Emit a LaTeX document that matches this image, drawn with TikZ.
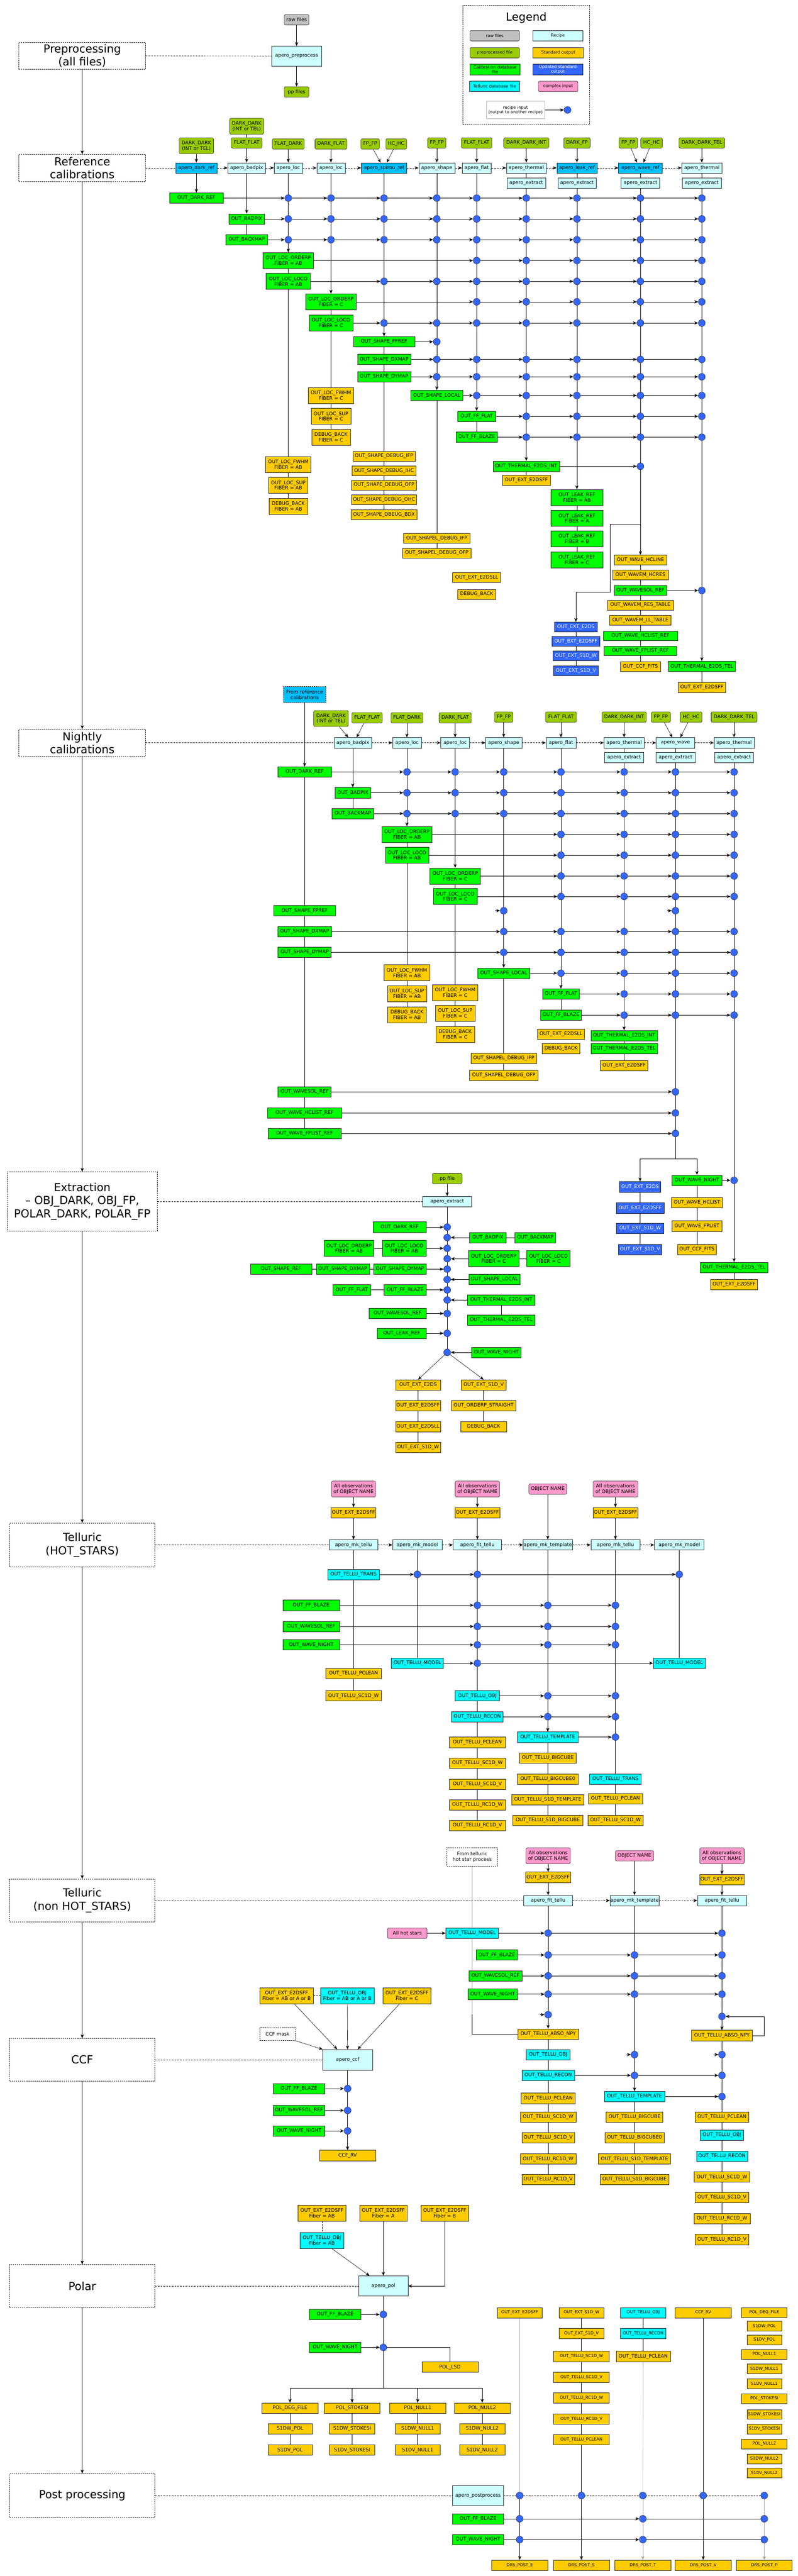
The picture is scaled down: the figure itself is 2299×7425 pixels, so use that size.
\documentclass[tikz,border=0pt]{standalone}
\usepackage{fontspec}
\setmainfont{DejaVu Sans}
\usetikzlibrary{arrows.meta}
\definecolor{recC}{HTML}{CCFFFF}
\definecolor{recB}{HTML}{00C0FF}
\definecolor{preC}{HTML}{99CC00}
\definecolor{calC}{HTML}{00FF00}
\definecolor{stdC}{HTML}{FFCC00}
\definecolor{updC}{HTML}{3366FF}
\definecolor{telC}{HTML}{00FFFF}
\definecolor{cpxC}{HTML}{FF99CC}
\definecolor{rawC}{HTML}{C0C0C0}
\definecolor{dotC}{HTML}{3366FF}
\pgfdeclarelayer{back}
\pgfdeclarelayer{bg}
\pgfsetlayers{back,bg,main}
\newcommand\fsA{\fontsize{14}{16}\selectfont}
\newcommand\fsB{\fontsize{12}{13.5}\selectfont}
\newcommand\fsC{\fontsize{32}{38}\selectfont}
\tikzset{
  basebox/.style={draw=black!85,line width=0.9pt,inner sep=1pt,align=center,font=\fsA,minimum height=30pt},
  rec/.style={basebox,fill=recC},
  recb/.style={basebox,fill=recB},
  pre/.style={basebox,fill=preC,rounded corners=4pt},
  cal/.style={basebox,fill=calC},
  std/.style={basebox,fill=stdC},
  upd/.style={basebox,fill=updC,text=white},
  tel/.style={basebox,fill=telC},
  cpx/.style={basebox,fill=cpxC,rounded corners=4pt},
  rawb/.style={basebox,fill=rawC,rounded corners=4pt},
  plainb/.style={basebox,draw=black!30,fill=white},
  dashb/.style={basebox,dash pattern=on 4pt off 2pt,fill=white},
  sec/.style={draw=black!85,line width=0.9pt,dash pattern=on 4pt off 2pt,align=center,font=\fsC,inner sep=2pt},
  h2/.style={minimum height=46pt},
  hs/.style={minimum height=28pt},
  dotn/.style={circle,draw=black!85,fill=dotC,minimum size=20pt,inner sep=0pt,line width=0.8pt},
  ln/.style={line width=0.9pt,draw=black},
  arr/.style={ln,-{Stealth[length=11pt,width=9pt,inset=3pt]}},
  dln/.style={ln,dash pattern=on 5pt off 3pt},
  darr/.style={arr,dash pattern=on 5pt off 3pt},
  faint/.style={ln,draw=black!35},
}
\newcommand\NB[6]{\node[#1,minimum width=#5pt] (#2) at (#3,#4) {#6};}
\newcommand\dotrow[3]{%
  \xdef\prevnode{#1}%
  \foreach \xx in {#3}{%
    \node[dotn] (D\xx-#2) at (\xx,#2) {};%
    \begin{pgfonlayer}{bg}\draw[arr] (\prevnode) -- (D\xx-#2);\end{pgfonlayer}%
    \xdef\prevnode{D\xx-#2}%
  }%
}
\newcommand\stubdot[2]{%
  \node[dotn] (D#1-#2) at (#1,#2) {};%
  \begin{pgfonlayer}{bg}\draw[arr] ([xshift=-14pt]D#1-#2.west) -- (D#1-#2.west);\end{pgfonlayer}%
}
\begin{document}
\begin{tikzpicture}[x=1pt,y=-1pt]
\begin{pgfonlayer}{back}\fill[white] (0,0) rectangle (2299,7425);\end{pgfonlayer}
\useasboundingbox (0,0) rectangle (2299,7425);

% ---------------- section boxes
\node[sec,minimum width=365pt,minimum height=78pt] (secPrep) at (237,161) {Preprocessing\\(all files)};
\node[sec,minimum width=365pt,minimum height=78pt] (secRef) at (237,484) {Reference\\calibrations};
\node[sec,minimum width=365pt,minimum height=78pt] (secNight) at (237,2141) {Nightly\\calibrations};
\node[sec,minimum width=433pt,minimum height=170pt] (secExt) at (237,3463) {Extraction\\– OBJ\_DARK, OBJ\_FP,\\POLAR\_DARK, POLAR\_FP};
\node[sec,minimum width=419pt,minimum height=126pt] (secTH) at (237,4453) {Telluric\\(HOT\_STARS)};
\node[sec,minimum width=419pt,minimum height=124pt] (secTN) at (237,5478) {Telluric\\(non HOT\_STARS)};
\node[sec,minimum width=419pt,minimum height=123pt] (secCCF) at (237,5937) {CCF};
\node[sec,minimum width=419pt,minimum height=123pt] (secPol) at (237,6589) {Polar};
\node[sec,minimum width=419pt,minimum height=126pt] (secPost) at (237,7193) {Post processing};

% ---------------- preprocessing
\NB{rawb}{rawf}{855}{57}{71}{raw files}
\NB{rec,minimum height=58pt}{prep}{855}{162}{143}{apero\_preprocess}
\NB{pre}{ppf}{855}{265}{71}{pp files}

% ---------------- legend
\node[draw=black!85,line width=0.9pt,dash pattern=on 4pt off 2pt,minimum width=366pt,minimum height=343pt,inner sep=0pt] (legbox) at (1517,187.5) {};
\node[font=\fsC] (legt) at (1517,51) {Legend};
\NB{rawb,font=\fsB}{lraw}{1426}{103}{143}{raw files}
\NB{rec,font=\fsB}{lrec}{1608}{103}{144}{Recipe}
\NB{pre,font=\fsB}{lpre}{1426}{152}{143}{preprocessed file}
\NB{std,font=\fsB}{lstd}{1609}{152}{146}{Standard output}
\NB{cal,font=\fsB,minimum height=31pt}{lcal}{1427}{200}{145}{Calibration database\\file}
\NB{upd,font=\fsB,minimum height=31pt}{lupd}{1608}{200}{144}{Updated standard\\output}
\NB{tel,font=\fsB}{ltel}{1426}{249}{144}{Telluric database file}
\NB{cpx,font=\fsB}{lcpx}{1609}{249}{114}{complex input}
\NB{plainb,font=\fsB,minimum height=50pt}{linp}{1486}{317}{168}{recipe input\\(output to another recipe)}
\node[dotn] (ldot) at (1636,317) {};

% ---------------- reference calibrations
\NB{recb}{rDark}{566}{484}{119}{apero\_dark\_ref}
\NB{rec}{rBad}{711}{484}{109}{apero\_badpix}
\NB{rec}{rLocA}{831}{484}{82}{apero\_loc}
\NB{rec}{rLocB}{954}{484}{82}{apero\_loc}
\NB{recb}{rShRef}{1107}{484}{131}{apero\_spirou\_ref}
\NB{rec}{rShape}{1259}{484}{104}{apero\_shape}
\NB{rec}{rFlat}{1374}{484}{84}{apero\_flat}
\NB{rec}{rThA}{1517}{484}{115}{apero\_thermal}
\NB{recb}{rLeak}{1663}{484}{116}{apero\_leak\_ref}
\NB{recb}{rWave}{1846}{484}{126}{apero\_wave\_ref}
\NB{rec}{rThB}{2023}{484}{116}{apero\_thermal}
\NB{rec}{reA}{1517}{528}{112}{apero\_extract}
\NB{rec}{reL}{1663}{528}{110}{apero\_extract}
\NB{rec}{reW}{1846}{528}{111}{apero\_extract}
\NB{rec}{reB}{2023}{528}{112}{apero\_extract}

\NB{pre,h2}{fDDa}{566}{420}{99}{DARK\_DARK\\(INT or TEL)}
\NB{pre,h2}{fDDb}{711}{364}{98}{DARK\_DARK\\(INT or TEL)}
\NB{pre}{fFFa}{711}{412}{89}{FLAT\_FLAT}
\NB{pre}{fFD}{831}{415}{92}{FLAT\_DARK}
\NB{pre}{fDF}{954}{415}{92}{DARK\_FLAT}
\NB{pre}{fFPa}{1067}{415}{53}{FP\_FP}
\NB{pre}{fHCa}{1142}{415}{60}{HC\_HC}
\NB{pre}{fFPb}{1259}{412}{53}{FP\_FP}
\NB{pre}{fFFb}{1374}{412}{88}{FLAT\_FLAT}
\NB{pre}{fDDI}{1517}{412}{130}{DARK\_DARK\_INT}
\NB{pre}{fDFP}{1663}{412}{76}{DARK\_FP}
\NB{pre}{fFPc}{1811}{412}{54}{FP\_FP}
\NB{pre}{fHCb}{1878}{412}{62}{HC\_HC}
\NB{pre}{fDDT}{2023}{412}{132}{DARK\_DARK\_TEL}

\NB{cal}{oDark}{566}{571}{155}{OUT\_DARK\_REF}
\NB{cal}{oBad}{711}{631}{103}{OUT\_BADPIX}
\NB{cal}{oBack}{711}{691}{120}{OUT\_BACKMAP}
\NB{cal,h2}{oOrdAB}{831}{751}{145}{OUT\_LOC\_ORDERP\\FIBER = AB}
\NB{cal,h2}{oLocoAB}{831}{811}{128}{OUT\_LOC\_LOCO\\FIBER = AB}
\NB{cal,h2}{oOrdC}{954}{870}{146}{OUT\_LOC\_ORDERP\\FIBER = C}
\NB{cal,h2}{oLocoC}{954}{931}{126}{OUT\_LOC\_LOCO\\FIBER = C}
\NB{cal}{oFPref}{1107}{985}{177}{OUT\_SHAPE\_FPREF}
\NB{cal}{oDX}{1107}{1036}{153}{OUT\_SHAPE\_DXMAP}
\NB{cal}{oDY}{1107}{1086}{153}{OUT\_SHAPE\_DYMAP}
\NB{cal}{oLocal}{1259}{1140}{151}{OUT\_SHAPE\_LOCAL}
\NB{cal}{oFFf}{1374}{1200}{109}{OUT\_FF\_FLAT}
\NB{cal}{oFFb}{1374}{1260}{119}{OUT\_FF\_BLAZE}
\NB{cal}{oThInt}{1517}{1344}{192}{OUT\_THERMAL\_E2DS\_INT}
\NB{std}{oExtFFa}{1517}{1384}{138}{OUT\_EXT\_E2DSFF}
\NB{cal,h2}{oLkAB}{1663}{1434}{150}{OUT\_LEAK\_REF\\FIBER = AB}
\NB{cal,h2}{oLkA}{1663}{1494}{150}{OUT\_LEAK\_REF\\FIBER = A}
\NB{cal,h2}{oLkB}{1663}{1553}{150}{OUT\_LEAK\_REF\\FIBER = B}
\NB{cal,h2}{oLkC}{1663}{1614}{150}{OUT\_LEAK\_REF\\FIBER = C}
\NB{std,hs}{oHcl}{1846}{1614}{151}{OUT\_WAVE\_HCLINE}
\NB{std,hs}{oHcres}{1846}{1657}{160}{OUT\_WAVEM\_HCRES}
\NB{cal,hs}{oWsol}{1846}{1702}{151}{OUT\_WAVESOL\_REF}
\NB{std,hs}{oResT}{1846}{1744}{191}{OUT\_WAVEM\_RES\_TABLE}
\NB{std,hs}{oLLT}{1846}{1788}{177}{OUT\_WAVEM\_LL\_TABLE}
\NB{cal,hs}{oHcRef}{1846}{1833}{213}{OUT\_WAVE\_HCLIST\_REF}
\NB{cal,hs}{oFpRef}{1846}{1876}{209}{OUT\_WAVE\_FPLIST\_REF}
\NB{std,hs}{oCCF}{1846}{1921}{115}{OUT\_CCF\_FITS}
\NB{upd,hs}{oE2}{1660}{1807}{122}{OUT\_EXT\_E2DS}
\NB{upd,hs}{oE2ff}{1660}{1849}{137}{OUT\_EXT\_E2DSFF}
\NB{upd,hs}{oS1w}{1660}{1890}{132}{OUT\_EXT\_S1D\_W}
\NB{upd,hs}{oS1v}{1660}{1933}{129}{OUT\_EXT\_S1D\_V}
\NB{cal}{oThTel}{2023}{1921}{194}{OUT\_THERMAL\_E2DS\_TEL}
\NB{std}{oExtFFb}{2023}{1981}{136}{OUT\_EXT\_E2DSFF}
\NB{std,h2}{oFwAB}{831}{1339}{131}{OUT\_LOC\_FWHM\\FIBER = AB}
\NB{std,h2}{oSuAB}{831}{1399}{113}{OUT\_LOC\_SUP\\FIBER = AB}
\NB{std,h2}{oDbAB}{831}{1459}{111}{DEBUG\_BACK\\FIBER = AB}
\NB{std,h2}{oFwC}{954}{1140}{130}{OUT\_LOC\_FWHM\\FIBER = C}
\NB{std,h2}{oSuC}{954}{1200}{114}{OUT\_LOC\_SUP\\FIBER = C}
\NB{std,h2}{oDbC}{954}{1260}{111}{DEBUG\_BACK\\FIBER = C}
\NB{std,hs}{oSd1}{1107}{1315}{180}{OUT\_SHAPE\_DEBUG\_IFP}
\NB{std,hs}{oSd2}{1107}{1357}{185}{OUT\_SHAPE\_DEBUG\_IHC}
\NB{std,hs}{oSd3}{1107}{1398}{187}{OUT\_SHAPE\_DEBUG\_OFP}
\NB{std,hs}{oSd4}{1107}{1440}{187}{OUT\_SHAPE\_DEBUG\_OHC}
\NB{std,hs}{oSd5}{1107}{1483}{190}{OUT\_SHAPE\_DBEUG\_BDX}
\NB{std,hs}{oSl1}{1259}{1552}{191}{OUT\_SHAPEL\_DEBUG\_IFP}
\NB{std,hs}{oSl2}{1259}{1594}{197}{OUT\_SHAPEL\_DEBUG\_OFP}
\NB{std,hs}{oLL}{1374}{1665}{138}{OUT\_EXT\_E2DSLL}
\NB{std,hs}{oDbF}{1374}{1713}{110}{DEBUG\_BACK}

\dotrow{oDark}{571}{831,954,1107,1259,1374,1517,1663,1846,2023}
\dotrow{oBad}{631}{831,954,1107,1259,1374,1517,1663,1846,2023}
\dotrow{oBack}{691}{831,954,1107,1259,1374,1517,1663,1846,2023}
\dotrow{oOrdAB}{751}{1374,1517,1663,1846,2023}
\dotrow{oLocoAB}{811}{1107,1259,1374,1517,1663,1846,2023}
\dotrow{oOrdC}{870}{1374,1517,1663,1846,2023}
\dotrow{oLocoC}{931}{1107,1259,1374,1517,1663,1846,2023}
\dotrow{oFPref}{985}{1259}
\dotrow{oDX}{1036}{1259,1374,1517,1663,1846,2023}
\dotrow{oDY}{1086}{1259,1374,1517,1663,1846,2023}
\dotrow{oLocal}{1140}{1374,1517,1663,1846,2023}
\dotrow{oFFf}{1200}{1517,1663,1846,2023}
\dotrow{oFFb}{1260}{1517,1663,1846,2023}
\dotrow{oThInt}{1344}{1846}
\dotrow{oWsol}{1702}{2023}
\coordinate (rwA) at (1846,1510);
\coordinate (rwB) at (1759,1706);

% ---------------- nightly calibrations
\NB{recb,dash pattern=on 4pt off 2pt,h2}{nFrom}{878}{2002}{122}{From reference\\calibrations}
\NB{rec}{nBad}{1017}{2141}{107}{apero\_badpix}
\NB{rec}{nLocA}{1173}{2141}{83}{apero\_loc}
\NB{rec}{nLocB}{1312}{2141}{83}{apero\_loc}
\NB{rec}{nShape}{1452}{2141}{104}{apero\_shape}
\NB{rec}{nFlat}{1617}{2141}{86}{apero\_flat}
\NB{rec}{nThA}{1799}{2141}{116}{apero\_thermal}
\NB{rec}{nWave}{1947}{2141}{111}{apero\_wave}
\NB{rec}{nThB}{2116}{2141}{116}{apero\_thermal}
\NB{rec}{neA}{1799}{2183}{112}{apero\_extract}
\NB{rec}{neW}{1947}{2183}{112}{apero\_extract}
\NB{rec}{neB}{2116}{2183}{112}{apero\_extract}
\NB{pre,h2}{nfDD}{954}{2071}{100}{DARK\_DARK\\(INT or TEL)}
\NB{pre}{nfFF}{1058}{2069}{88}{FLAT\_FLAT}
\NB{pre}{nfFD}{1173}{2069}{92}{FLAT\_DARK}
\NB{pre}{nfDF}{1312}{2069}{93}{DARK\_FLAT}
\NB{pre}{nfFP}{1452}{2067}{53}{FP\_FP}
\NB{pre}{nfFF2}{1617}{2067}{89}{FLAT\_FLAT}
\NB{pre}{nfDDI}{1799}{2067}{128}{DARK\_DARK\_INT}
\NB{pre}{nfFP2}{1905}{2067}{55}{FP\_FP}
\NB{pre}{nfHC}{1992}{2067}{63}{HC\_HC}
\NB{pre}{nfDDT}{2116}{2067}{132}{DARK\_DARK\_TEL}

\NB{cal}{nDark}{878}{2225}{155}{OUT\_DARK\_REF}
\NB{cal}{nBadpix}{1017}{2285}{103}{OUT\_BADPIX}
\NB{cal}{nBack}{1017}{2345}{120}{OUT\_BACKMAP}
\NB{cal,h2}{nOrdAB}{1173}{2405}{145}{OUT\_LOC\_ORDERP\\FIBER = AB}
\NB{cal,h2}{nLocoAB}{1173}{2465}{125}{OUT\_LOC\_LOCO\\FIBER = AB}
\NB{cal,h2}{nOrdC}{1312}{2525}{145}{OUT\_LOC\_ORDERP\\FIBER = C}
\NB{cal,h2}{nLocoC}{1312}{2584}{126}{OUT\_LOC\_LOCO\\FIBER = C}
\NB{cal}{nFPref}{878}{2625}{178}{OUT\_SHAPE\_FPREF}
\NB{cal}{nDX}{878}{2685}{155}{OUT\_SHAPE\_DXMAP}
\NB{cal}{nDY}{878}{2745}{153}{OUT\_SHAPE\_DYMAP}
\NB{std,h2}{nFwAB}{1173}{2804}{131}{OUT\_LOC\_FWHM\\FIBER = AB}
\NB{std,h2}{nSuAB}{1173}{2864}{113}{OUT\_LOC\_SUP\\FIBER = AB}
\NB{std,h2}{nDbAB}{1173}{2925}{111}{DEBUG\_BACK\\FIBER = AB}
\NB{std,h2}{nFwC}{1312}{2861}{131}{OUT\_LOC\_FWHM\\FIBER = C}
\NB{std,h2}{nSuC}{1312}{2920}{114}{OUT\_LOC\_SUP\\FIBER = C}
\NB{std,h2}{nDbC}{1312}{2981}{111}{DEBUG\_BACK\\FIBER = C}
\NB{cal}{nLocal}{1452}{2805}{150}{OUT\_SHAPE\_LOCAL}
\NB{std}{nSl1}{1452}{3051}{190}{OUT\_SHAPEL\_DEBUG\_IFP}
\NB{std}{nSl2}{1452}{3100}{197}{OUT\_SHAPEL\_DEBUG\_OFP}
\NB{cal}{nFFf}{1617}{2865}{106}{OUT\_FF\_FLAT}
\NB{cal}{nFFb}{1617}{2926}{118}{OUT\_FF\_BLAZE}
\NB{std}{nLL}{1617}{2981}{136}{OUT\_EXT\_E2DSLL}
\NB{std}{nDbF}{1617}{3022}{108}{DEBUG\_BACK}
\NB{cal}{nThInt}{1799}{2985}{192}{OUT\_THERMAL\_E2DS\_INT}
\NB{cal}{nThTel}{1799}{3022}{192}{OUT\_THERMAL\_E2DS\_TEL}
\NB{std}{nExtFF}{1799}{3071}{137}{OUT\_EXT\_E2DSFF}
\NB{cal}{nWsol}{878}{3147}{153}{OUT\_WAVESOL\_REF}
\NB{cal}{nHcl}{878}{3208}{214}{OUT\_WAVE\_HCLIST\_REF}
\NB{cal}{nFpl}{878}{3267}{210}{OUT\_WAVE\_FPLIST\_REF}
\NB{upd}{nE2}{1845}{3421}{118}{OUT\_EXT\_E2DS}
\NB{upd}{nE2ff}{1845}{3482}{138}{OUT\_EXT\_E2DSFF}
\NB{upd}{nS1w}{1845}{3541}{136}{OUT\_EXT\_S1D\_W}
\NB{upd}{nS1v}{1845}{3601}{124}{OUT\_EXT\_S1D\_V}
\NB{cal}{nWN}{2009}{3402}{144}{OUT\_WAVE\_NIGHT}
\NB{std}{nWHc}{2009}{3466}{148}{OUT\_WAVE\_HCLIST}
\NB{std}{nWFp}{2009}{3534}{144}{OUT\_WAVE\_FPLIST}
\NB{std}{nCCF}{2009}{3601}{112}{OUT\_CCF\_FITS}
\NB{cal}{nThTel2}{2116}{3653}{194}{OUT\_THERMAL\_E2DS\_TEL}
\NB{std}{nExtFF2}{2116}{3702}{136}{OUT\_EXT\_E2DSFF}
\coordinate (nwS) at (1947,3340);

\dotrow{nDark}{2225}{1173,1312,1452,1617,1799,1947,2116}
\dotrow{nBadpix}{2285}{1173,1312,1452,1617,1799,1947,2116}
\dotrow{nBack}{2345}{1173,1312,1452,1617,1799,1947,2116}
\dotrow{nOrdAB}{2405}{1617,1799,1947,2116}
\dotrow{nLocoAB}{2465}{1617,1799,1947,2116}
\dotrow{nOrdC}{2525}{1617,1799,1947,2116}
\dotrow{nLocoC}{2584}{1617,1799,1947,2116}
\stubdot{1452}{2625}
\stubdot{1947}{2625}
\dotrow{nDX}{2685}{1452,1617,1799,1947,2116}
\dotrow{nDY}{2745}{1452,1617,1799,1947,2116}
\dotrow{nLocal}{2805}{1617,1799,1947,2116}
\dotrow{nFFf}{2865}{1799,1947,2116}
\dotrow{nFFb}{2926}{1799,1947,2116}
\dotrow{nWsol}{3147}{1947}
\dotrow{nHcl}{3208}{1947}
\dotrow{nFpl}{3267}{1947}
\dotrow{nWN}{3402}{2116}

% ---------------- extraction
\NB{pre}{xPP}{1289}{3397}{86}{pp file}
\NB{rec}{xExt}{1289}{3463}{141}{apero\_extract}
\foreach \yy/\nn in {3537/1,3567/2,3598/3,3628/4,3658/5,3688/6,3718/7,3747/8,3786/9,3843/10,3898/11}{
  \node[dotn] (xd\nn) at (1289,\yy) {};
}
\NB{cal}{xDark}{1152}{3537}{154}{OUT\_DARK\_REF}
\NB{cal,h2}{xOrdAB}{1006}{3598}{142}{OUT\_LOC\_ORDERP\\FIBER = AB}
\NB{cal,h2}{xLocoAB}{1165}{3598}{126}{OUT\_LOC\_LOCO\\FIBER = AB}
\NB{cal}{xShRef}{810}{3658}{177}{OUT\_SHAPE\_REF}
\NB{cal}{xDX}{988}{3658}{153}{OUT\_SHAPE\_DXMAP}
\NB{cal}{xDY}{1153}{3658}{152}{OUT\_SHAPE\_DYMAP}
\NB{cal}{xFFf}{1014}{3718}{109}{OUT\_FF\_FLAT}
\NB{cal}{xFFb}{1168}{3718}{122}{OUT\_FF\_BLAZE}
\NB{cal}{xWsol}{1146}{3786}{165}{OUT\_WAVESOL\_REF}
\NB{cal}{xLeak}{1158}{3843}{142}{OUT\_LEAK\_REF}
\NB{cal}{xBad}{1406}{3567}{105}{OUT\_BADPIX}
\NB{cal}{xBack}{1543}{3567}{118}{OUT\_BACKMAP}
\NB{cal,h2}{xOrdC}{1423}{3628}{145}{OUT\_LOC\_ORDERP\\FIBER = C}
\NB{cal,h2}{xLocoC}{1581}{3628}{125}{OUT\_LOC\_LOCO\\FIBER = C}
\NB{cal}{xLocal}{1425}{3688}{147}{OUT\_SHAPE\_LOCAL}
\NB{cal}{xThInt}{1445}{3747}{194}{OUT\_THERMAL\_E2DS\_INT}
\NB{cal}{xThTel}{1445}{3805}{194}{OUT\_THERMAL\_E2DS\_TEL}
\NB{cal}{xWN}{1431}{3898}{143}{OUT\_WAVE\_NIGHT}
\NB{std}{xE2}{1205}{3992}{129}{OUT\_EXT\_E2DS}
\NB{std}{xE2ff}{1205}{4051}{129}{OUT\_EXT\_E2DSFF}
\NB{std}{xE2ll}{1205}{4112}{129}{OUT\_EXT\_E2DSLL}
\NB{std}{xS1w}{1205}{4172}{129}{OUT\_EXT\_S1D\_W}
\NB{std}{xS1v}{1394}{3992}{129}{OUT\_EXT\_S1D\_V}
\NB{std}{xOrdS}{1394}{4051}{185}{OUT\_ORDERP\_STRAIGHT}
\NB{std}{xDbg}{1394}{4112}{131}{DEBUG\_BACK}

% ---------------- telluric hot stars
\NB{cpx,h2}{tP1}{1019}{4292}{127}{All observations\\of OBJECT NAME}
\NB{cpx,h2}{tP2}{1376}{4292}{128}{All observations\\of OBJECT NAME}
\NB{cpx}{tP3}{1579}{4292}{109}{OBJECT NAME}
\NB{cpx,h2}{tP4}{1774}{4292}{129}{All observations\\of OBJECT NAME}
\NB{std}{tE1}{1019}{4360}{129}{OUT\_EXT\_E2DSFF}
\NB{std}{tE2}{1376}{4360}{129}{OUT\_EXT\_E2DSFF}
\NB{std}{tE4}{1774}{4360}{129}{OUT\_EXT\_E2DSFF}
\NB{rec}{tMk1}{1019}{4453}{140}{apero\_mk\_tellu}
\NB{rec}{tMm1}{1203}{4453}{143}{apero\_mk\_model}
\NB{rec}{tFit}{1376}{4453}{140}{apero\_fit\_tellu}
\NB{rec}{tTpl}{1579}{4453}{142}{apero\_mk\_template}
\NB{rec}{tMk2}{1774}{4453}{142}{apero\_mk\_tellu}
\NB{rec}{tMm2}{1958}{4453}{143}{apero\_mk\_model}
\NB{tel}{tTrans}{1019}{4538}{148}{OUT\_TELLU\_TRANS}
\NB{cal}{tBlaze}{897}{4627}{163}{OUT\_FF\_BLAZE}
\NB{cal}{tWsol}{897}{4688}{163}{OUT\_WAVESOL\_REF}
\NB{cal}{tWN}{897}{4741}{163}{OUT\_WAVE\_NIGHT}
\NB{tel}{tModel1}{1203}{4794}{150}{OUT\_TELLU\_MODEL}
\NB{tel}{tModel2}{1958}{4794}{150}{OUT\_TELLU\_MODEL}
\NB{std}{tPcl1}{1019}{4824}{161}{OUT\_TELLU\_PCLEAN}
\NB{std}{tSc1}{1019}{4888}{161}{OUT\_TELLU\_SC1D\_W}
\NB{tel}{tObj}{1376}{4888}{128}{OUT\_TELLU\_OBJ}
\NB{tel}{tRec}{1376}{4948}{148}{OUT\_TELLU\_RECON}
\NB{std}{tPcl2}{1376}{5022}{162}{OUT\_TELLU\_PCLEAN}
\NB{std}{tSc1w}{1376}{5082}{162}{OUT\_TELLU\_SC1D\_W}
\NB{std}{tSc1v}{1376}{5143}{162}{OUT\_TELLU\_SC1D\_V}
\NB{std}{tRc1w}{1376}{5202}{162}{OUT\_TELLU\_RC1D\_W}
\NB{std}{tRc1v}{1376}{5262}{162}{OUT\_TELLU\_RC1D\_V}
\NB{tel}{tTemp}{1579}{5007}{174}{OUT\_TELLU\_TEMPLATE}
\NB{std}{tBig}{1579}{5067}{164}{OUT\_TELLU\_BIGCUBE}
\NB{std}{tBig0}{1579}{5128}{174}{OUT\_TELLU\_BIGCUBE0}
\NB{std}{tS1T}{1579}{5187}{207}{OUT\_TELLU\_S1D\_TEMPLATE}
\NB{std}{tS1B}{1579}{5247}{201}{OUT\_TELLU\_S1D\_BIGCUBE}
\NB{tel}{tTr2}{1774}{5128}{148}{OUT\_TELLU\_TRANS}
\NB{std}{tPcl3}{1774}{5184}{156}{OUT\_TELLU\_PCLEAN}
\NB{std}{tSc3}{1774}{5247}{158}{OUT\_TELLU\_SC1D\_W}
\dotrow{tTrans}{4538}{1203,1376,1958}
\dotrow{tBlaze}{4627}{1376,1579,1774}
\dotrow{tWsol}{4688}{1376,1579,1774}
\dotrow{tWN}{4741}{1376,1579,1774}
\dotrow{tModel1}{4794}{1376}
\dotrow{tObj}{4888}{1579,1774}
\dotrow{tRec}{4948}{1579,1774}
\dotrow{tTemp}{5007}{1774}

% ---------------- telluric non hot stars
\NB{dashb,minimum height=54pt}{uFrom}{1361}{5352}{145}{From telluric\\hot star process}
\NB{cpx,h2}{uP1}{1580}{5349}{128}{All observations\\of OBJECT NAME}
\NB{cpx}{uP2}{1829}{5349}{110}{OBJECT NAME}
\NB{cpx,h2}{uP3}{2081}{5349}{128}{All observations\\of OBJECT NAME}
\NB{std}{uE1}{1580}{5411}{129}{OUT\_EXT\_E2DSFF}
\NB{std}{uE3}{2081}{5418}{129}{OUT\_EXT\_E2DSFF}
\NB{rec}{uFit1}{1580}{5478}{142}{apero\_fit\_tellu}
\NB{rec}{uTpl}{1829}{5478}{140}{apero\_mk\_template}
\NB{rec}{uFit2}{2081}{5478}{141}{apero\_fit\_tellu}
\NB{cpx}{uHot}{1174}{5572}{114}{All hot stars}
\NB{tel}{uModel}{1361}{5572}{152}{OUT\_TELLU\_MODEL}
\NB{cal}{uBlaze}{1432}{5635}{119}{OUT\_FF\_BLAZE}
\NB{cal}{uWsol}{1428}{5695}{153}{OUT\_WAVESOL\_REF}
\NB{cal}{uWN}{1420}{5748}{143}{OUT\_WAVE\_NIGHT}
\NB{std}{uAbso1}{1580}{5863}{175}{OUT\_TELLU\_ABSO\_NPY}
\NB{std}{uAbso2}{2081}{5867}{174}{OUT\_TELLU\_ABSO\_NPY}
\NB{tel}{uObj}{1580}{5922}{126}{OUT\_TELLU\_OBJ}
\NB{tel}{uRec}{1580}{5982}{151}{OUT\_TELLU\_RECON}
\NB{std}{uPcl}{1580}{6048}{156}{OUT\_TELLU\_PCLEAN}
\NB{std}{uSc1w}{1580}{6102}{160}{OUT\_TELLU\_SC1D\_W}
\NB{std}{uSc1v}{1580}{6162}{152}{OUT\_TELLU\_SC1D\_V}
\NB{std}{uRc1w}{1580}{6223}{160}{OUT\_TELLU\_RC1D\_W}
\NB{std}{uRc1v}{1580}{6282}{152}{OUT\_TELLU\_RC1D\_V}
\NB{tel}{uTemp}{1829}{6043}{173}{OUT\_TELLU\_TEMPLATE}
\NB{std}{uBig}{1829}{6102}{163}{OUT\_TELLU\_BIGCUBE}
\NB{std}{uBig0}{1829}{6162}{171}{OUT\_TELLU\_BIGCUBE0}
\NB{std}{uS1T}{1829}{6223}{208}{OUT\_TELLU\_S1D\_TEMPLATE}
\NB{std}{uS1B}{1829}{6282}{198}{OUT\_TELLU\_S1D\_BIGCUBE}
\NB{std}{uPcl3}{2081}{6102}{154}{OUT\_TELLU\_PCLEAN}
\NB{tel}{uObj3}{2081}{6154}{124}{OUT\_TELLU\_OBJ}
\NB{tel}{uRec3}{2081}{6215}{147}{OUT\_TELLU\_RECON}
\NB{std}{uSc3w}{2081}{6275}{160}{OUT\_TELLU\_SC1D\_W}
\NB{std}{uSc3v}{2081}{6334}{155}{OUT\_TELLU\_SC1D\_V}
\NB{std}{uRc3w}{2081}{6395}{162}{OUT\_TELLU\_RC1D\_W}
\NB{std}{uRc3v}{2081}{6455}{155}{OUT\_TELLU\_RC1D\_V}
\dotrow{uModel}{5572}{1580,2081}
\dotrow{uBlaze}{5635}{1580,1829,2081}
\dotrow{uWsol}{5695}{1580,1829,2081}
\dotrow{uWN}{5748}{1580,1829,2081}
\stubdot{1580}{5807}
\node[dotn] (D2081-5812) at (2081,5812) {};
\stubdot{1829}{5922}
\stubdot{2081}{5922}
\dotrow{uRec}{5982}{1829,2081}
\dotrow{uTemp}{6043}{2081}
\coordinate (uBend) at (1361,5807);
\coordinate (uBr) at (2203,5867);

% ---------------- CCF
\NB{std,h2}{cE1}{826}{5752}{154}{OUT\_EXT\_E2DSFF\\Fiber = AB or A or B}
\NB{tel,h2}{cT}{1001}{5752}{154}{OUT\_TELLU\_OBJ\\Fiber = AB or A or B}
\NB{std,h2}{cE2}{1173}{5752}{138}{OUT\_EXT\_E2DSFF\\Fiber = C}
\NB{dashb,minimum height=37pt}{cMask}{800}{5863}{102}{CCF mask}
\NB{rec,minimum height=59pt}{cCCF}{1002}{5937}{143}{apero\_ccf}
\NB{cal}{cBlaze}{862}{6020}{148}{OUT\_FF\_BLAZE}
\NB{cal}{cWsol}{862}{6083}{148}{OUT\_WAVESOL\_REF}
\NB{cal}{cWN}{862}{6142}{148}{OUT\_WAVE\_NIGHT}
\NB{std}{cRV}{1002}{6213}{162}{CCF\_RV}
\dotrow{cBlaze}{6020}{1002}
\dotrow{cWsol}{6083}{1002}
\dotrow{cWN}{6142}{1002}

% ---------------- polar
\NB{std,h2}{pE1}{928}{6379}{138}{OUT\_EXT\_E2DSFF\\Fiber = AB}
\NB{std,h2}{pE2}{1105}{6379}{137}{OUT\_EXT\_E2DSFF\\Fiber = A}
\NB{std,h2}{pE3}{1282}{6379}{137}{OUT\_EXT\_E2DSFF\\Fiber = B}
\NB{tel,h2}{pT}{928}{6458}{126}{OUT\_TELLU\_OBJ\\Fiber = AB}
\NB{rec,minimum height=58pt}{pPol}{1105}{6589}{142}{apero\_pol}
\NB{cal}{pBlaze}{966}{6671}{148}{OUT\_FF\_BLAZE}
\NB{cal}{pWN}{966}{6766}{148}{OUT\_WAVE\_NIGHT}
\NB{std}{pLSD}{1297}{6823}{162}{POL\_LSD}
\NB{std}{pDeg}{836}{6941}{162}{POL\_DEG\_FILE}
\NB{std}{pStk}{1015}{6941}{161}{POL\_STOKESI}
\NB{std}{pN1}{1204}{6941}{162}{POL\_NULL1}
\NB{std}{pN2}{1390}{6941}{161}{POL\_NULL2}
\NB{std}{pDegW}{836}{7001}{128}{S1DW\_POL}
\NB{std}{pDegV}{836}{7062}{128}{S1DV\_POL}
\NB{std}{pStkW}{1015}{7001}{130}{S1DW\_STOKESI}
\NB{std}{pStkV}{1015}{7062}{130}{S1DV\_STOKESI}
\NB{std}{pN1W}{1204}{7001}{129}{S1DW\_NULL1}
\NB{std}{pN1V}{1204}{7062}{129}{S1DV\_NULL1}
\NB{std}{pN2W}{1390}{7001}{130}{S1DW\_NULL2}
\NB{std}{pN2V}{1390}{7062}{130}{S1DV\_NULL2}
\dotrow{pBlaze}{6671}{1105}
\dotrow{pWN}{6766}{1105}
\coordinate (pBar) at (1105,6883);

% ---------------- post processing
\NB{rec,minimum height=58pt}{qPost}{1378}{7193}{147}{apero\_postprocess}
\NB{cal}{qBlaze}{1378}{7260}{147}{OUT\_FF\_BLAZE}
\NB{cal}{qWN}{1378}{7320}{147}{OUT\_WAVE\_NIGHT}
\foreach \xx/\nn in {1498/1,1676/2,1853/3,2027/4,2203/5}{\node[dotn] (qd\nn) at (\xx,7193) {};}
\foreach \xx/\nn in {1498/1,1853/3,2203/5}{\node[dotn] (qb\nn) at (\xx,7260) {}; \node[dotn] (qw\nn) at (\xx,7320) {};}
\NB{std,font=\fsB}{qE}{1498}{7394}{161}{DRS\_POST\_E}
\NB{std,font=\fsB}{qS}{1676}{7394}{161}{DRS\_POST\_S}
\NB{std,font=\fsB}{qT}{1853}{7394}{161}{DRS\_POST\_T}
\NB{std,font=\fsB}{qV}{2027}{7394}{162}{DRS\_POST\_V}
\NB{std,font=\fsB}{qP}{2203}{7394}{161}{DRS\_POST\_P}
\NB{std,font=\fsB}{kE2ff}{1498}{6666}{130}{OUT\_EXT\_E2DSFF}
\NB{std,font=\fsB}{kS1w}{1676}{6666}{129}{OUT\_EXT\_S1D\_W}
\NB{std,font=\fsB}{kS1v}{1676}{6726}{129}{OUT\_EXT\_S1D\_V}
\NB{std,font=\fsB}{kTSw}{1676}{6792}{160}{OUT\_TELLU\_SC1D\_W}
\NB{std,font=\fsB}{kTSv}{1676}{6852}{160}{OUT\_TELLU\_SC1D\_V}
\NB{std,font=\fsB}{kTRw}{1676}{6912}{160}{OUT\_TELLU\_RC1D\_W}
\NB{std,font=\fsB}{kTRv}{1676}{6972}{160}{OUT\_TELLU\_RC1D\_V}
\NB{std,font=\fsB}{kTPc}{1676}{7032}{160}{OUT\_TELLU\_PCLEAN}
\NB{tel,font=\fsB}{kObj}{1854}{6666}{130}{OUT\_TELLU\_OBJ}
\NB{tel,font=\fsB}{kRec}{1854}{6726}{130}{OUT\_TELLU\_RECON}
\NB{std}{kPcl}{1854}{6792}{156}{OUT\_TELLU\_PCLEAN}
\NB{std,font=\fsB}{kRV}{2027}{6666}{162}{CCF\_RV}
\NB{std,font=\fsB,hs}{kDeg}{2203}{6666}{131}{POL\_DEG\_FILE}
\NB{std,font=\fsB,hs}{kPw}{2203}{6705}{100}{S1DW\_POL}
\NB{std,font=\fsB,hs}{kPv}{2203}{6744}{100}{S1DV\_POL}
\NB{std,font=\fsB,hs}{kN1}{2203}{6786}{131}{POL\_NULL1}
\NB{std,font=\fsB,hs}{kN1w}{2203}{6828}{100}{S1DW\_NULL1}
\NB{std,font=\fsB,hs}{kN1v}{2203}{6871}{100}{S1DV\_NULL1}
\NB{std,font=\fsB,hs}{kSt}{2203}{6914}{131}{POL\_STOKESI}
\NB{std,font=\fsB,hs}{kStw}{2203}{6959}{100}{S1DW\_STOKESI}
\NB{std,font=\fsB,hs}{kStv}{2203}{7001}{100}{S1DV\_STOKESI}
\NB{std,font=\fsB,hs}{kN2}{2203}{7044}{131}{POL\_NULL2}
\NB{std,font=\fsB,hs}{kN2w}{2203}{7087}{100}{S1DW\_NULL2}
\NB{std,font=\fsB,hs}{kN2v}{2203}{7128}{100}{S1DV\_NULL2}

% ================= connectors
\begin{pgfonlayer}{bg}
% section chain
\draw[arr] (secPrep) -- (secRef);
\draw[arr] (secRef) -- (secNight);
\draw[arr] (secNight) -- (secExt);
\draw[arr] (secExt) -- (secTH);
\draw[arr] (secTH) -- (secTN);
\draw[arr] (secTN) -- (secCCF);
\draw[arr] (secCCF) -- (secPol);
\draw[arr] (secPol) -- (secPost);
\draw[dln] (secPrep) -- (prep);
\draw[dln] (secRef) -- (rDark);
\draw[dln] (secNight) -- (nBad);
\draw[dln] (secExt) -- (xExt);
\draw[dln] (secTH) -- (tMk1);
\draw[dln] (secTN) -- (uFit1);
\draw[dln] (secCCF) -- (cCCF);
\draw[dln] (secPol) -- (pPol);
\draw[dln] (secPost) -- (qPost);
% preprocessing + legend
\draw[arr] (rawf) -- (prep);
\draw[arr] (prep) -- (ppf);
\draw[arr] (linp) -- (ldot);
% reference
\foreach \a/\b in {rDark/rBad,rBad/rLocA,rLocA/rLocB,rLocB/rShRef,rShRef/rShape,rShape/rFlat,rFlat/rThA,rThA/rLeak,rLeak/rWave,rWave/rThB}{\draw[darr] (\a) -- (\b);}
\draw[arr] (fDDa) -- (rDark);
\draw[ln] (fDDb) -- (fFFa);
\draw[arr] (fFFa) -- (rBad);
\draw[arr] (fFD) -- (rLocA);
\draw[arr] (fDF) -- (rLocB);
\draw[arr] ([xshift=9pt]fFPa.south) -- ([xshift=-10pt]rShRef.north);
\draw[arr] ([xshift=-8pt]fHCa.south) -- ([xshift=8pt]rShRef.north);
\draw[arr] (fFPb) -- (rShape);
\draw[arr] (fFFb) -- (rFlat);
\draw[arr] (fDDI) -- (rThA);
\draw[arr] (fDFP) -- (rLeak);
\draw[arr] ([xshift=8pt]fFPc.south) -- ([xshift=-10pt]rWave.north);
\draw[arr] ([xshift=-6pt]fHCb.south) -- ([xshift=9pt]rWave.north);
\draw[arr] (fDDT) -- (rThB);
\draw[ln] (rThA) -- (reA);
\draw[ln] (rLeak) -- (reL);
\draw[ln] (rWave) -- (reW);
\draw[ln] (rThB) -- (reB);
\draw[arr] (rDark) -- (oDark);
\draw[arr] (rBad) -- (oBad);
\draw[ln] (oBad) -- (oBack);
\draw[arr] (rLocA) -- (oOrdAB);
\draw[ln] (oOrdAB) -- (oLocoAB) -- (oFwAB) -- (oSuAB) -- (oDbAB);
\draw[arr] (rLocB) -- (oOrdC);
\draw[ln] (oOrdC) -- (oLocoC) -- (oFwC) -- (oSuC) -- (oDbC);
\draw[arr] (rShRef) -- (oFPref);
\draw[ln] (oFPref) -- (oDX) -- (oDY) -- (oSd1) -- (oSd2) -- (oSd3) -- (oSd4) -- (oSd5);
\draw[arr] (rShape) -- (oLocal);
\draw[ln] (oLocal) -- (oSl1) -- (oSl2);
\draw[arr] (rFlat) -- (oFFf);
\draw[ln] (oFFf) -- (oFFb);
\draw[arr] (reA) -- (oThInt);
\draw[ln] (oThInt) -- (oExtFFa);
\draw[arr] (reL) -- (oLkAB);
\draw[ln] (oLkAB) -- (oLkA) -- (oLkB) -- (oLkC);
\draw[arr] (reW) -- (oHcl);
\draw[ln] (oHcl) -- (oHcres) -- (oWsol) -- (oResT) -- (oLLT) -- (oHcRef) -- (oFpRef) -- (oCCF);
\draw[arr] (rwA) -| (rwB) -| (oE2);
\draw[ln] (oE2) -- (oE2ff) -- (oS1w) -- (oS1v);
\draw[arr] (reB) -- (oThTel);
\draw[ln] (oThTel) -- (oExtFFb);
% nightly
\foreach \a/\b in {nBad/nLocA,nLocA/nLocB,nLocB/nShape,nShape/nFlat,nFlat/nThA,nThA/nWave,nWave/nThB}{\draw[darr] (\a) -- (\b);}
\draw[arr] ([xshift=24pt]nfDD.south) -- ([xshift=-13pt]nBad.north);
\draw[arr] ([xshift=-9pt]nfFF.south) -- ([xshift=11pt]nBad.north);
\draw[arr] (nfFD) -- (nLocA);
\draw[arr] (nfDF) -- (nLocB);
\draw[arr] (nfFP) -- (nShape);
\draw[arr] (nfFF2) -- (nFlat);
\draw[arr] (nfDDI) -- (nThA);
\draw[arr] ([xshift=10pt]nfFP2.south) -- ([xshift=-9pt]nWave.north);
\draw[arr] ([xshift=-9pt]nfHC.south) -- ([xshift=14pt]nWave.north);
\draw[arr] (nfDDT) -- (nThB);
\draw[ln] (nThA) -- (neA);
\draw[ln] (nWave) -- (neW);
\draw[ln] (nThB) -- (neB);
\draw[arr] (nFrom) -- (nDark);
\draw[ln] (nDark) -- (nFPref) -- (nDX) -- (nDY) -- (nWsol) -- (nHcl) -- (nFpl);
\draw[arr] (nBad) -- (nBadpix);
\draw[ln] (nBadpix) -- (nBack);
\draw[arr] (nLocA) -- (nOrdAB);
\draw[ln] (nOrdAB) -- (nLocoAB) -- (nFwAB) -- (nSuAB) -- (nDbAB);
\draw[arr] (nLocB) -- (nOrdC);
\draw[ln] (nOrdC) -- (nLocoC) -- (nFwC) -- (nSuC) -- (nDbC);
\draw[arr] (nShape) -- (nLocal);
\draw[ln] (nLocal) -- (nSl1) -- (nSl2);
\draw[arr] (nFlat) -- (nFFf);
\draw[ln] (nFFf) -- (nFFb);
\draw[arr] (neA) -- (nThInt);
\draw[ln] (nThInt) -- (nThTel) -- (nExtFF);
\draw[ln] (neW) -- (nwS);
\draw[arr] (nwS) -| (nE2);
\draw[arr] (nwS) -| (nWN);
\draw[ln] (nE2) -- (nE2ff) -- (nS1w) -- (nS1v);
\draw[ln] (nWN) -- (nWHc) -- (nWFp) -- (nCCF);
\draw[arr] (neB) -- (nThTel2);
\draw[ln] (nThTel2) -- (nExtFF2);
% extraction
\draw[arr] (xPP) -- (xExt);
\draw[ln] (xExt) -- (xd11);
\draw[arr] (xDark) -- (xd1);
\draw[ln] (xOrdAB) -- (xLocoAB);
\draw[arr] (xLocoAB) -- (xd3);
\draw[ln] (xShRef) -- (xDX) -- (xDY);
\draw[arr] (xDY) -- (xd5);
\draw[ln] (xFFf) -- (xFFb);
\draw[arr] (xFFb) -- (xd7);
\draw[arr] (xWsol) -- (xd9);
\draw[arr] (xLeak) -- (xd10);
\draw[ln] (xBack) -- (xBad);
\draw[arr] (xBad) -- (xd2);
\draw[ln] (xLocoC) -- (xOrdC);
\draw[arr] (xOrdC) -- (xd4);
\draw[arr] (xLocal) -- (xd6);
\draw[ln] (xThInt) -- (xThTel);
\draw[arr] (xThInt) -- (xd8);
\draw[arr] (xWN) -- (xd11);
\draw[arr] (xd11) -- (xE2.north);
\draw[arr] (xd11) -- (xS1v.north);
\draw[ln] (xE2) -- (xE2ff) -- (xE2ll) -- (xS1w);
\draw[ln] (xS1v) -- (xOrdS) -- (xDbg);
% telluric hot
\foreach \a/\b in {tMk1/tMm1,tMm1/tFit,tFit/tTpl,tTpl/tMk2,tMk2/tMm2}{\draw[darr] (\a) -- (\b);}
\draw[arr] (tP1) -- (tE1);
\draw[arr] (tE1) -- (tMk1);
\draw[arr] (tP2) -- (tE2);
\draw[arr] (tE2) -- (tFit);
\draw[arr] (tP3) -- (tTpl);
\draw[arr] (tP4) -- (tE4);
\draw[arr] (tE4) -- (tMk2);
\draw[ln] (tMk1) -- (tTrans);
\draw[ln] (tTrans) -- (tPcl1) -- (tSc1);
\draw[ln] (tMm1) -- (tModel1);
\draw[ln] (tFit) -- (tObj);
\draw[ln] (tObj) -- (tRec) -- (tPcl2) -- (tSc1w) -- (tSc1v) -- (tRc1w) -- (tRc1v);
\draw[arr] (tTpl) -- (tTemp);
\draw[ln] (tTemp) -- (tBig) -- (tBig0) -- (tS1T) -- (tS1B);
\draw[ln] (tMk2) -- (tTr2);
\draw[ln] (tTr2) -- (tPcl3) -- (tSc3);
\draw[ln] (tMm2) -- (tModel2);
\draw[arr] (D1376-4794) -- (tModel2);
% telluric non hot
\foreach \a/\b in {uFit1/uTpl,uTpl/uFit2}{\draw[darr] (\a) -- (\b);}
\draw[arr] (uP1) -- (uE1);
\draw[arr] (uE1) -- (uFit1);
\draw[arr] (uP2) -- (uTpl);
\draw[arr] (uP3) -- (uE3);
\draw[arr] (uE3) -- (uFit2);
\draw[arr] (uHot) -- (uModel);
\draw[arr] (uFit1) -- (uAbso1);
\draw[ln] (uAbso1) -- (uObj) -- (uRec) -- (uPcl) -- (uSc1w) -- (uSc1v) -- (uRc1w) -- (uRc1v);
\draw[arr] (uTpl) -- (uTemp);
\draw[ln] (uTemp) -- (uBig) -- (uBig0) -- (uS1T) -- (uS1B);
\draw[arr] (uFit2) -- (uAbso2);
\draw[ln] (uAbso2) -- (uPcl3) -- (uObj3) -- (uRec3) -- (uSc3w) -- (uSc3v) -- (uRc3w) -- (uRc3v);
\draw[faint] (uFrom) -- (uBend);
\draw[ln] (uBend) |- (uAbso1);
\draw[arr] (uAbso2) -- (uBr) |- (D2081-5812);
% CCF
\draw[dln] (cE1) -- (cT);
\draw[arr] ([xshift=22pt]cE1.south) -- ([xshift=-30pt]cCCF.north);
\draw[arr] (cT) -- (cCCF);
\draw[arr] ([xshift=-21pt]cE2.south) -- ([xshift=29pt]cCCF.north);
\draw[arr] (cMask.south east) -- (cCCF.north west);
\draw[arr] (cCCF) -- (cRV);
% polar
\draw[dln] (pE1) -- (pT);
\draw[arr] ([xshift=29pt]pT.south) -- ([xshift=-40pt]pPol.north);
\draw[arr] (pE2) -- (pPol);
\draw[arr] (pE3) |- (pPol);
\draw[ln] (pPol) -- (pBar);
\draw[ln] (D1105-6766) -| (pLSD);
\draw[arr] (pBar) -| (pDeg);
\draw[arr] (pBar) -| (pStk);
\draw[arr] (pBar) -| (pN1);
\draw[arr] (pBar) -| (pN2);
\draw[ln] (pDeg) -- (pDegW) -- (pDegV);
\draw[ln] (pStk) -- (pStkW) -- (pStkV);
\draw[ln] (pN1) -- (pN1W) -- (pN1V);
\draw[ln] (pN2) -- (pN2W) -- (pN2V);
% post processing
\draw[dln] (qPost) -- (qd5);
\draw[faint] (kE2ff) -- (qd1);
\draw[arr] (qd1) -- (qE);
\draw[ln] (kS1w) -- (kS1v) -- (kTSw) -- (kTSv) -- (kTRw) -- (kTRv) -- (kTPc);
\draw[arr] (kTPc) -- (qS);
\draw[ln] (kObj) -- (kRec) -- (kPcl);
\draw[faint] (kPcl) -- (qd3);
\draw[arr,draw=black!35] (qd3) -- (qT);
\draw[arr] (kRV) -- (qV);
\draw[arr,draw=black!35] (qd5) -- (qP);
\draw[ln] (qBlaze) -- (qb1);
\draw[arr] (qb1) -- (qb3);
\draw[ln] (qb3) -- (qb5);
\draw[ln] (qWN) -- (qw1);
\draw[arr] (qw1) -- (qw3);
\draw[ln] (qw3) -- (qw5);
\end{pgfonlayer}
\end{tikzpicture}
\end{document}
